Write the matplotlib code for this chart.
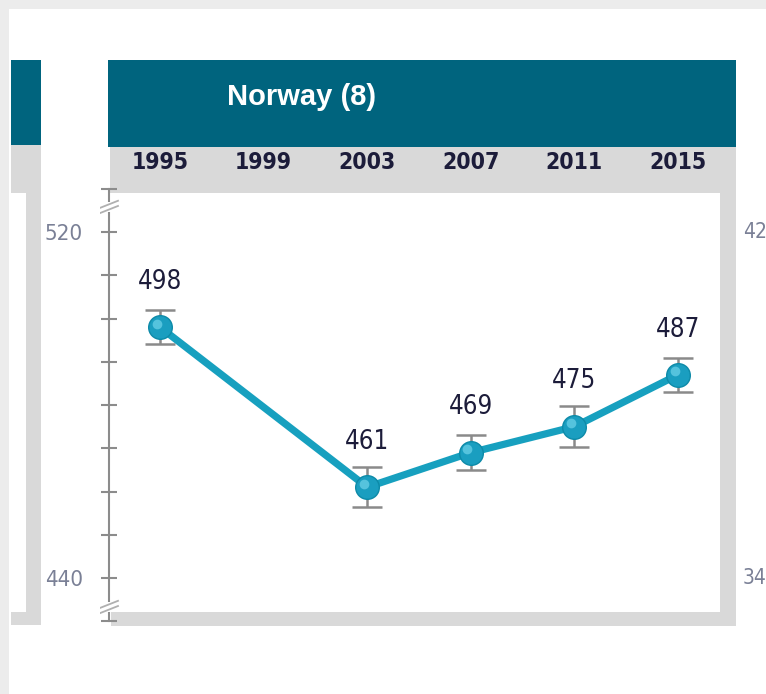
import matplotlib
matplotlib.use("Agg")
import matplotlib.pyplot as plt
from matplotlib.patches import Rectangle
from matplotlib import transforms

# data
years = [1995, 2003, 2007, 2011, 2015]
scores = [498, 461, 469, 475, 487]
errors = [4.0, 4.6, 4.0, 4.8, 3.9]
year_ticks = [1995, 1999, 2003, 2007, 2011, 2015]
title = "Norway (8)"
y_labels = {440: "440", 520: "520"}
neighbour_labels = ["42", "34"]

W, H = 766, 694
NARROW = dict(family="DejaVu Sans", stretch="condensed")

fig = plt.figure(figsize=(W / 100, H / 100), dpi=100)
fig.patch.set_facecolor("white")


def px_rect(x0, y0, x1, y1, color):
    # rectangle given in pixel coords (origin top-left)
    r = Rectangle((x0 / W, 1 - y1 / H), (x1 - x0) / W, (y1 - y0) / H,
                  transform=fig.transFigure, facecolor=color, edgecolor="none",
                  zorder=-5)
    fig.patches.append(r)


teal = "#00647e"
grey = "#d9d9d9"

# page background strips
px_rect(0, 0, W, 9, "#ececec")
px_rect(0, 0, 9, H, "#ececec")

# neighbouring panel on the left (cut off)
px_rect(11, 60, 41, 145, teal)
px_rect(11, 145, 41, 193, grey)
px_rect(26, 193, 41, 625, grey)
px_rect(11, 612, 41, 625, grey)

# main panel frame
px_rect(108, 60, 736, 147, teal)
px_rect(110, 147, 736, 193, grey)
px_rect(720, 193, 736, 626, grey)
px_rect(111, 612, 736, 626, grey)

fig.text(302 / W, 1 - 97 / H, title, color="white", fontsize=21,
         fontweight="bold", family=["Liberation Sans", "DejaVu Sans"],
         ha="center", va="center")

# right neighbour's axis labels
for lab, ypx in zip(neighbour_labels, [232, 578]):
    fig.text(743 / W, 1 - ypx / H, lab, color="#7a8096", fontsize=15,
             ha="left", va="center", **NARROW)

# axes: pixel box x 100-720, y 185-630
ax = fig.add_axes([100 / W, 1 - 630 / H, 620 / W, 445 / H])
ax.set_facecolor("none")
ax.set_xlim(1992.683, 2016.62)
ax.set_ylim(427.98, 530.87)

for s in ["top", "right", "bottom"]:
    ax.spines[s].set_visible(False)
axis_x = 1993.03
ax.spines["left"].set_position(("data", axis_x))
ax.spines["left"].set_bounds(430, 530)
ax.spines["left"].set_color("#8c8c8c")
ax.spines["left"].set_linewidth(1.5)

ax.set_yticks(range(430, 531, 10))
ax.set_yticklabels([y_labels.get(v, "") for v in range(430, 531, 10)],
                   fontsize=16, color="#7a8096", **NARROW)
ax.tick_params(axis="y", direction="inout", length=11.5, width=1.5,
               color="#8c8c8c", pad=13)

ax.xaxis.set_ticks_position("top")
ax.set_xticks(year_ticks)
ax.set_xticklabels([str(y) for y in year_ticks], fontsize=16.5,
                   fontweight="bold", color="#1c1c3a", **NARROW)
ax.tick_params(axis="x", length=0, pad=8)

# axis breaks
for v in [525.8, 433.3]:
    ax.fill_between([axis_x - 0.1, axis_x + 0.1], v - 1.2, v + 1.2,
                    color="white", zorder=3, linewidth=0)
    for dv in [-0.6, 0.6]:
        ax.plot([axis_x - 0.38, axis_x + 0.38], [v + dv - 0.9, v + dv + 0.9],
                color="#b0b0b0", lw=1.3, zorder=4, solid_capstyle="butt")

# error bars, line and markers
ax.errorbar(years, scores, yerr=errors, fmt="none", ecolor="#8a8a8a",
            elinewidth=1.8, capsize=10.8, capthick=1.8, zorder=5)
ax.plot(years, scores, color="#17a0bf", lw=5.2, zorder=6,
        solid_capstyle="round")
ax.plot(years, scores, "o", ms=17, color="#1a9ec0", mec="#0d8aa8",
        mew=1, zorder=7)
hl = transforms.offset_copy(ax.transData, fig=fig, x=-2.5, y=2.5,
                            units="points")
ax.plot(years, scores, "o", ms=7, color="#6fd3ea", mec="none",
        alpha=0.7, zorder=8, transform=hl)

for x, v in zip(years, scores):
    ax.annotate(str(v), (x, v), xytext=(0, 32.5), textcoords="offset points",
                ha="center", va="center", fontsize=18.5, color="#1c1c3a",
                zorder=9, **NARROW)

fig.savefig("out.png", dpi=100)
